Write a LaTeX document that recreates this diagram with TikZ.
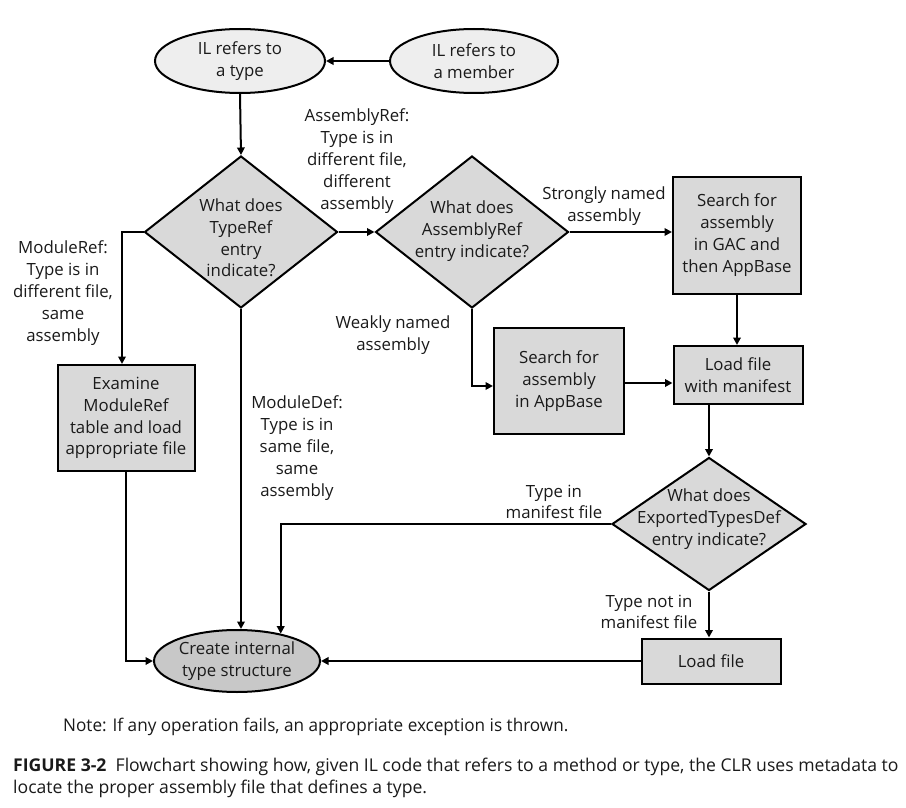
\documentclass[tikz,border=0pt]{standalone}
\usepackage{fontspec}
\setmainfont{Open Sans}
\usetikzlibrary{shapes.geometric,arrows.meta}
\definecolor{lightfill}{HTML}{EEEEEE}
\definecolor{midfill}{HTML}{D9D9D9}
\definecolor{darkfill}{HTML}{C8C8C8}
\definecolor{inkc}{HTML}{1A1A1A}
\begin{document}
\begin{tikzpicture}[x=1pt,y=-1pt,
  every node/.style={font=\fontsize{16.8}{21.8}\selectfont, text=inkc},
  ell/.style={ellipse, draw=black, line width=2pt, inner sep=0pt, align=center},
  dia/.style={diamond, draw=black, line width=2pt, fill=midfill, inner sep=0pt},
  box/.style={rectangle, draw=black, line width=2pt, fill=midfill, inner sep=0pt, align=center},
  lbl/.style={align=center, inner sep=0pt},
  conn/.style={line width=2pt, -{Triangle[length=7.5pt,width=7.5pt]}}]
\useasboundingbox (0,0) rectangle (906,808);
\fill[white] (0,0) rectangle (906,808);

% top ellipses
\node[ell, fill=lightfill, minimum width=170, minimum height=64] (type) at (240,61) {IL refers to\\a type};
\node[ell, fill=lightfill, minimum width=168, minimum height=64] (member) at (474,61) {IL refers to\\a member};

% diamonds
\node[dia, minimum width=193, minimum height=152] (d1) at (241,232) {};
\node[lbl] (d1t) at (241,238) {What does\\TypeRef\\entry\\indicate?};
\node[dia, minimum width=193, minimum height=152] (d2) at (472,232) {};
\node[lbl] (d2t) at (472,231) {What does\\AssemblyRef\\entry indicate?};
\node[dia, minimum width=194, minimum height=133] (d3) at (709,524) {};
\node[lbl] (d3t) at (709,519) {What does\\ExportedTypesDef\\entry indicate?};

% boxes
\node[box, minimum width=128, minimum height=117] (gac) at (737,235) {Search for\\assembly\\in GAC and\\then AppBase};
\node[box, minimum width=129, minimum height=58] (man) at (738,375) {Load file\\with manifest};
\node[box, minimum width=130, minimum height=106] (appb) at (559,381) {Search for\\assembly\\in AppBase};
\node[box, minimum width=137, minimum height=106] (exam) at (126,418) {Examine\\ModuleRef\\table and load\\appropriate file};
\node[box, minimum width=139, minimum height=45] (load) at (711,661) {Load file};

% bottom ellipse
\node[ell, fill=darkfill, minimum width=166, minimum height=62] (cis) at (237,661) {Create internal\\type structure};

% labels
\node[lbl] (lasm) at (357,161) {AssemblyRef:\\Type is in\\different file,\\different\\assembly};
\node[lbl] (lmod) at (63,293) {ModuleRef:\\Type is in\\different file,\\same\\assembly};
\node[lbl] (ldef) at (297,448) {ModuleDef:\\Type is in\\same file,\\same\\assembly};
\node[lbl] (lstr) at (604,206) {Strongly named\\assembly};
\node[lbl] (lweak) at (393,335) {Weakly named\\assembly};
\node[lbl] (lin) at (554,502) {Type in\\manifest file};
\node[lbl] (lnot) at (649,612) {Type not in\\manifest file};

% connectors
\draw[conn] (member.west) -- (type.east);
\draw[conn] (type.south) -- (d1.north);
\draw[conn] (d1.east) -- (d2.west);
\draw[conn] (d2.east) -- (d2.east -| gac.west);
\draw[conn] (gac.south) -- (gac.south |- man.north);
\draw[conn] (d2.south) |- ([yshift=-5pt]appb.west);
\draw[conn] ([yshift=-2pt]appb.east) -- ([yshift=-2pt]appb.east -| man.west);
\draw[conn] (man.south -| d3.north) -- (d3.north);
\draw[conn] (d3.south) -- (d3.south |- load.north);
\draw[conn] (load.west) -- (cis.east);
\draw[conn] (d3.west) -| (cis.32);
\draw[conn] (d1.south) -- (d1.south |- cis.north);
\draw[conn] (d1.west) -| ([xshift=-4pt]exam.north);
\draw[conn] (exam.south) |- (cis.west);

% note and caption
\node[anchor=west, inner sep=0pt, font=\fontsize{17.5}{20}\selectfont] (note) at (63,727) {\scalebox{0.98}[1]{Note: If any operation fails, an appropriate exception is thrown.}};
\node[anchor=north west, inner sep=0pt, align=left, font=\fontsize{17.6}{22}\selectfont] (cap) at (13,758) {\scalebox{1.0}[1]{\textbf{FIGURE 3-2}\ \ Flowchart showing how, given IL code that refers to a method or type, the CLR uses metadata to}\\\scalebox{1.0}[1]{locate the proper assembly file that defines a type.}};
\end{tikzpicture}
\end{document}
